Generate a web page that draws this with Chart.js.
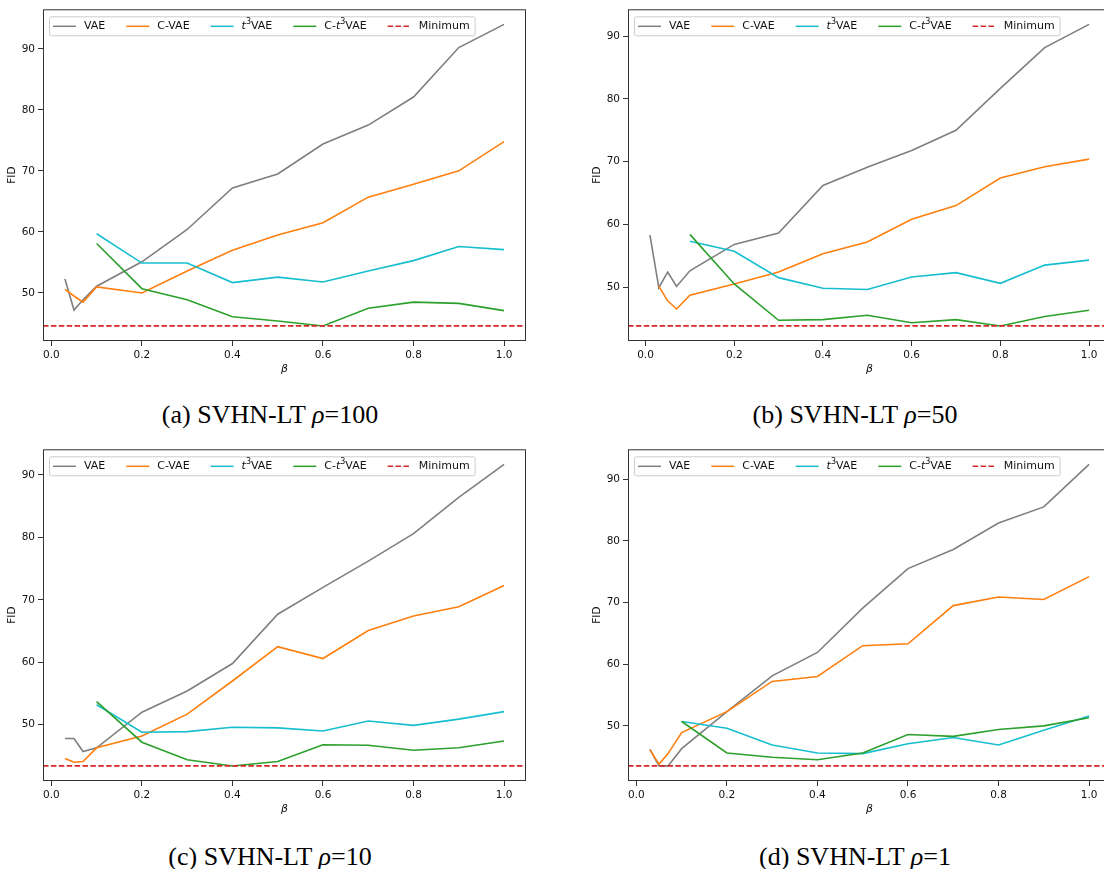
<!DOCTYPE html>
<html>
<head>
<meta charset="utf-8">
<script src="https://cdn.jsdelivr.net/npm/chart.js@4.4.1/dist/chart.umd.min.js"></script>
<style>
html, body { margin: 0; padding: 0; width: 1104px; height: 869px; overflow: hidden; background: #fff; }
canvas { position: absolute; }
.caption { position: absolute; width: 540px; text-align: center; font-family: "Liberation Serif", serif; font-size: 26px; color: #000; line-height: 30px; }
</style>
</head>
<body>
<canvas id="chartA" width="540" height="380" style="left:0;top:0"></canvas>
<canvas id="chartB" width="540" height="380" style="left:585px;top:0"></canvas>
<canvas id="chartC" width="540" height="380" style="left:0;top:440px"></canvas>
<canvas id="chartD" width="540" height="380" style="left:585px;top:440px"></canvas>
<div class="caption" style="left:0;top:400px">(a) SVHN-LT <i>ρ</i>=100</div>
<div class="caption" style="left:585px;top:400px">(b) SVHN-LT <i>ρ</i>=50</div>
<div class="caption" style="left:0;top:842px">(c) SVHN-LT <i>ρ</i>=10</div>
<div class="caption" style="left:585px;top:842px">(d) SVHN-LT <i>ρ</i>=1</div>
<script>
// valeurs de beta (axe x)
const betaSmall = [0.03, 0.05, 0.07, 0.1, 0.2, 0.3, 0.4, 0.5, 0.6, 0.7, 0.8, 0.9, 1.0];
const betaVaeB = [0.01, 0.03, 0.05, 0.07, 0.1, 0.2, 0.3, 0.4, 0.5, 0.6, 0.7, 0.8, 0.9, 1.0];
const betaT = [0.1, 0.2, 0.3, 0.4, 0.5, 0.6, 0.7, 0.8, 0.9, 1.0];

// (a) rho = 100
const vaeA = [52.3, 47.2, 48.9, 51.1, 55.1, 60.4, 67.2, 69.5, 74.4, 77.5, 82.1, 90.2, 94.0];
const cvaeA = [50.6, 49.5, 48.5, 51.0, 50.0, 53.6, 57.0, 59.5, 61.5, 65.7, 67.8, 70.0, 74.8];
const t3A = [59.7, 54.9, 54.9, 51.7, 52.6, 51.8, 53.6, 55.3, 57.6, 57.1];
const ct3A = [58.1, 50.7, 48.9, 46.1, 45.4, 44.6, 47.5, 48.5, 48.3, 47.1];

// (b) rho = 50
const vaeB = [58.3, 49.9, 52.4, 50.1, 52.6, 56.8, 58.6, 66.2, 69.1, 71.8, 75.0, 81.7, 88.2, 91.9];
const cvaeB = [50.1, 47.8, 46.5, 48.7, 50.5, 52.4, 55.3, 57.2, 60.8, 63.0, 67.4, 69.2, 70.4];
const t3B = [57.3, 55.7, 51.5, 49.8, 49.6, 51.6, 52.3, 50.6, 53.5, 54.3];
const ct3B = [58.4, 50.5, 44.7, 44.8, 45.5, 44.3, 44.8, 43.8, 45.3, 46.3];

// (c) rho = 10
const vaeC = [47.8, 47.8, 45.7, 46.3, 52.0, 55.4, 59.8, 67.7, 72.0, 76.2, 80.6, 86.4, 91.7];
const cvaeC = [44.6, 44.0, 44.1, 46.3, 48.2, 51.7, 57.0, 62.5, 60.6, 65.1, 67.4, 68.9, 72.3];
const t3C = [53.2, 48.8, 48.9, 49.6, 49.5, 49.0, 50.6, 49.9, 50.9, 52.1];
const ct3C = [53.7, 47.2, 44.4, 43.4, 44.1, 46.8, 46.7, 45.9, 46.3, 47.4];

// (d) rho = 1
const vaeD = [46.2, 43.5, 43.5, 46.3, 52.3, 58.1, 61.9, 69.1, 75.5, 78.6, 82.9, 85.5, 92.4];
const cvaeD = [46.1, 43.8, 45.5, 48.9, 52.3, 57.2, 58.0, 63.0, 63.3, 69.5, 70.9, 70.5, 74.2];
const t3D = [50.7, 49.6, 46.9, 45.6, 45.5, 47.1, 48.1, 46.9, 49.3, 51.6];
const ct3D = [50.7, 45.6, 44.9, 44.5, 45.6, 48.6, 48.3, 49.4, 50.0, 51.3];

const seriesNames = ['VAE', 'C-VAE', 't3VAE', 'C-t3VAE'];
const seriesColors = ['#7f7f7f', '#ff7f0e', '#17becf', '#2ca02c'];
const minColor = '#d62728';

const FONT = '"DejaVu Sans", sans-serif';

// legende dessinee dans la zone du graphe (comme matplotlib)
const legendItems = [
    { parts: [{ t: 'VAE' }], color: seriesColors[0] },
    { parts: [{ t: 'C-VAE' }], color: seriesColors[1] },
    { parts: [{ t: 't', it: true }, { t: '3', sup: true }, { t: 'VAE' }], color: seriesColors[2] },
    { parts: [{ t: 'C-' }, { t: 't', it: true }, { t: '3', sup: true }, { t: 'VAE' }], color: seriesColors[3] },
    { parts: [{ t: 'Minimum' }], color: minColor, dash: [5.5, 2.4] }
];

function partFont(p) {
    if (p.sup) return '8px ' + FONT;
    if (p.it) return 'italic 11px ' + FONT;
    return '11px ' + FONT;
}

const framePlugin = {
    id: 'frameAndLegend',
    afterDatasetsDraw(chart) {
        const ctx = chart.ctx;
        const a = chart.chartArea;
        ctx.save();
        // cadre (spines)
        ctx.strokeStyle = '#333';
        ctx.lineWidth = 1;
        ctx.setLineDash([]);
        ctx.strokeRect(a.left + 0.5, a.top + 0.5, a.right - a.left - 1, a.bottom - a.top - 1);

        // mesure de la legende
        const lineLen = 23, gap = 8, colSpace = 21, padL = 4, padR = 5;
        let widths = legendItems.map(it => it.parts.reduce((s, p) => {
            ctx.font = partFont(p);
            return s + ctx.measureText(p.t).width;
        }, 0));
        let w = padL + padR;
        widths.forEach((tw, i) => { w += lineLen + gap + tw + (i < widths.length - 1 ? colSpace : 0); });
        const bx = a.left + 6, by = a.top + 7, bh = 19;
        ctx.fillStyle = 'rgba(255,255,255,0.8)';
        ctx.strokeStyle = '#cccccc';
        ctx.beginPath();
        ctx.roundRect(bx + 0.5, by + 0.5, w, bh, 2);
        ctx.fill();
        ctx.stroke();

        const cy = by + bh / 2 + 0.5;
        let x = bx + padL;
        legendItems.forEach((it, i) => {
            ctx.strokeStyle = it.color;
            ctx.lineWidth = 1.5;
            ctx.setLineDash(it.dash || []);
            ctx.beginPath();
            ctx.moveTo(x, cy);
            ctx.lineTo(x + lineLen, cy);
            ctx.stroke();
            ctx.setLineDash([]);
            x += lineLen + gap;
            ctx.fillStyle = '#111';
            ctx.textBaseline = 'middle';
            it.parts.forEach(p => {
                ctx.font = partFont(p);
                ctx.fillText(p.t, x, p.sup ? cy - 4 : cy);
                x += ctx.measureText(p.t).width;
            });
            x += colSpace;
        });
        ctx.restore();
    }
};

function pad5(lo, hi) {
    const m = (hi - lo) * 0.05;
    return [lo - m, hi + m];
}

function makeChart(canvasId, series) {
    const allX = series.flatMap(s => s[0]);
    const allY = series.flatMap(s => s[1]);
    const minFid = Math.min(...allY);
    const [xMin, xMax] = pad5(Math.min(...allX), Math.max(...allX));
    const [yMin, yMax] = pad5(minFid, Math.max(...allY));

    const datasets = series.map((s, i) => ({
        label: seriesNames[i],
        data: s[0].map((b, k) => ({ x: b, y: s[1][k] })),
        borderColor: seriesColors[i],
        borderWidth: 1.6,
        pointRadius: 0,
        tension: 0,
        fill: false,
        order: 10 - i
    }));
    datasets.push({
        label: 'Minimum',
        data: [{ x: xMin, y: minFid }, { x: xMax, y: minFid }],
        borderColor: minColor,
        borderWidth: 1.6,
        borderDash: [5.5, 2.4],
        pointRadius: 0,
        fill: false,
        order: 1
    });

    const tickFont = { family: FONT, size: 10.5 };
    return new Chart(document.getElementById(canvasId).getContext('2d'), {
        type: 'line',
        data: { datasets: datasets },
        options: {
            responsive: false,
            animation: false,
            layout: { padding: { top: 6, right: 14, left: 0, bottom: 0 } },
            plugins: { legend: { display: false }, tooltip: { enabled: false } },
            scales: {
                x: {
                    type: 'linear',
                    min: xMin,
                    max: xMax,
                    afterFit: sc => { sc.height = 39; },
                    grid: { drawOnChartArea: false, drawTicks: true, tickLength: 5, color: '#333' },
                    border: { display: false },
                    ticks: {
                        stepSize: 0.2, includeBounds: false, autoSkip: false, maxRotation: 0,
                        padding: 3, color: '#111', font: tickFont,
                        callback: v => Number(v).toFixed(1)
                    },
                    title: { display: true, text: 'β', color: '#111', padding: { top: 0, bottom: 4 },
                        font: { family: FONT, size: 11, style: 'italic' } }
                },
                y: {
                    min: yMin,
                    max: yMax,
                    afterFit: sc => { sc.width = 43; },
                    grid: { drawOnChartArea: false, drawTicks: true, tickLength: 5, color: '#333' },
                    border: { display: false },
                    ticks: {
                        stepSize: 10, includeBounds: false, padding: 3, color: '#111', font: tickFont,
                        callback: v => String(Math.round(v))
                    },
                    title: { display: true, text: 'FID', color: '#111', padding: { top: 6, bottom: 0 },
                        font: { family: FONT, size: 10.5 } }
                }
            }
        },
        plugins: [framePlugin]
    });
}

makeChart('chartA', [[betaSmall, vaeA], [betaSmall, cvaeA], [betaT, t3A], [betaT, ct3A]]);
makeChart('chartB', [[betaVaeB, vaeB], [betaSmall, cvaeB], [betaT, t3B], [betaT, ct3B]]);
makeChart('chartC', [[betaSmall, vaeC], [betaSmall, cvaeC], [betaT, t3C], [betaT, ct3C]]);
makeChart('chartD', [[betaSmall, vaeD], [betaSmall, cvaeD], [betaT, t3D], [betaT, ct3D]]);
</script>
</body>
</html>
